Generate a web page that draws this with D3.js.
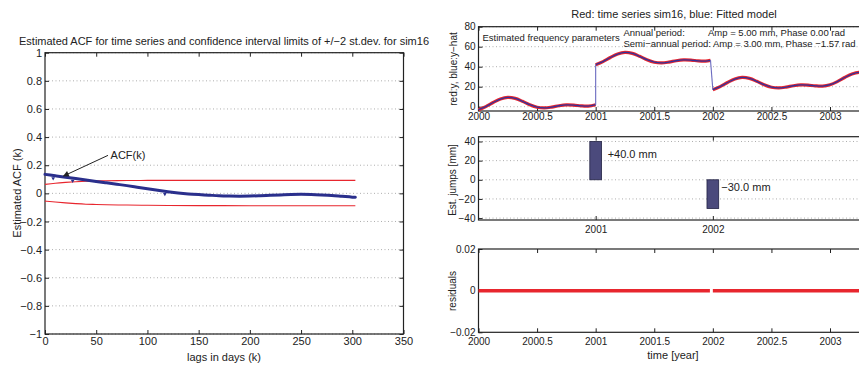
<!DOCTYPE html>
<html>
<head>
<meta charset="utf-8">
<script src="https://cdn.jsdelivr.net/npm/d3@7"></script>
<style>
  body { margin: 0; background: #fff; }
  svg { display: block; font-family: "Liberation Sans", Arial, sans-serif; }
</style>
</head>
<body>
<script>
// Width og height
const w = 859;
const h = 365;

// ---- venstre plot: ACF ----
const acfLags = [0, 10, 20, 30, 40, 50, 60, 70, 80, 90, 100, 110, 120, 130, 140, 150,
  160, 170, 180, 190, 200, 210, 220, 230, 240, 250, 260, 270, 280, 290, 300, 303];
const acfValues = [0.135, 0.125, 0.115, 0.105, 0.095, 0.085, 0.075, 0.065, 0.055, 0.044,
  0.033, 0.022, 0.012, 0.003, -0.004, -0.009, -0.013, -0.017, -0.019, -0.02, -0.019,
  -0.017, -0.014, -0.011, -0.008, -0.007, -0.008, -0.011, -0.015, -0.021, -0.027, -0.028];
const acfMarkLags = [8, 27, 117];
const acfMarkValues = [0.125, 0.107, 0.013];

const ciLags = [0, 10, 20, 30, 40, 50, 60, 80, 100, 150, 200, 250, 303];
const ciUpper = [0.064, 0.072, 0.078, 0.083, 0.087, 0.089, 0.09, 0.091, 0.092, 0.092, 0.092, 0.092, 0.092];
const ciLower = [-0.055, -0.062, -0.068, -0.073, -0.077, -0.079, -0.081, -0.083, -0.085, -0.087, -0.088, -0.088, -0.088];

const lagTicks = [0, 50, 100, 150, 200, 250, 300, 350];
const acfTicks = [-1, -0.8, -0.6, -0.4, -0.2, 0, 0.2, 0.4, 0.6, 0.8, 1];

// ---- højre plot: tidsserie sim16 (rød) og fittet model (blå) ----
const yearsA = [2000, 2000.0625, 2000.125, 2000.1875, 2000.25, 2000.3125, 2000.375, 2000.4375,
  2000.5, 2000.5625, 2000.625, 2000.6875, 2000.75, 2000.8125, 2000.875, 2000.9375, 2001];
const sim16A = [-3.0, 0.1, 4.16, 7.68, 9.25, 8.3, 5.41, 1.98, -0.5, -1.22, -0.41, 0.94,
  1.75, 1.56, 0.84, 0.65, 2.0];
const yearsB = [2001, 2001.0625, 2001.125, 2001.1875, 2001.25, 2001.3125, 2001.375, 2001.4375,
  2001.5, 2001.5625, 2001.625, 2001.6875, 2001.75, 2001.8125, 2001.875, 2001.9375, 2001.98];
const sim16B = [42.0, 45.1, 49.16, 52.68, 54.25, 53.3, 50.41, 46.98, 44.5, 43.78, 44.59,
  45.94, 46.75, 46.56, 45.84, 45.65, 46.37];
const yearsC = [2002, 2002.0625, 2002.125, 2002.1875, 2002.25, 2002.3125, 2002.375, 2002.4375,
  2002.5, 2002.5625, 2002.625, 2002.6875, 2002.75, 2002.8125, 2002.875, 2002.9375, 2003,
  2003.0625, 2003.125, 2003.1875, 2003.25, 2003.3125, 2003.375];
const sim16C = [17.0, 20.1, 24.16, 27.68, 29.25, 28.3, 25.41, 21.98, 19.5, 18.78, 19.59,
  20.94, 21.75, 21.56, 20.84, 20.65, 22.0, 25.1, 29.16, 32.68, 34.25, 33.3, 30.41];

const yearTicks = [2000, 2000.5, 2001, 2001.5, 2002, 2002.5, 2003];
const seriesTicks = [0, 20, 40, 60, 80];

// spring (jumps)
const jumpYears = [2001, 2002];
const jumpSizes = [40, -30];
const jumpLabelY = [27, -8];
const jumpTicks = [-40, -20, 0, 20, 40];

// residualer
const resYears1 = [2000, 2001.975];
const resValues1 = [0, 0];
const resYears2 = [2002, 2003.4];
const resValues2 = [0, 0];
const resTicks = [-0.02, 0, 0.02];

const red = "#e8262e";
const blue = "#33339a";
const ink = "#222";

const svg = d3.select("body").append("svg").attr("width", w).attr("height", h);
svg.append("rect").attr("width", w).attr("height", h).attr("fill", "#fff");

svg.append("defs").append("marker")
  .attr("id", "arrow")
  .attr("viewBox", "0 0 10 10")
  .attr("refX", 9).attr("refY", 5)
  .attr("markerWidth", 7).attr("markerHeight", 6)
  .attr("markerUnits", "userSpaceOnUse")
  .attr("orient", "auto")
  .append("path").attr("d", "M0,0L10,5L0,10z").attr("fill", ink);

const fmt = (d) => String(Math.round(d * 100) / 100).replace("-", "\u2212");

// Tegner en MATLAB-agtig akse-boks med ticks indad
function frame(x, y, o) {
  const g = svg.append("g");
  const [x0, x1] = x.range();
  const [y1, y0] = y.range();
  const fs = o.fontSize;

  if (o.grid) {
    g.selectAll("line.grid")
      .data(o.yTicks)
      .join("line")
      .attr("class", "grid")
      .attr("x1", x0).attr("x2", x1)
      .attr("y1", (d) => y(d)).attr("y2", (d) => y(d))
      .attr("stroke", "#999")
      .attr("stroke-width", 0.8)
      .attr("stroke-dasharray", "1,2.5");
  }

  const style = (sel) => {
    sel.select(".domain").remove();
    sel.attr("font-family", null).attr("font-size", fs).attr("color", ink);
    sel.selectAll("text").attr("fill", ink);
  };

  g.append("g").attr("transform", "translate(0," + y1 + ")")
    .call(d3.axisBottom(x).tickValues(o.xTicks).tickSize(-4).tickPadding(o.xPad)
      .tickFormat(o.xLabels ? fmt : ""))
    .call(style);
  g.append("g").attr("transform", "translate(0," + y0 + ")")
    .call(d3.axisTop(x).tickValues(o.xTicks).tickSize(-4).tickFormat(""))
    .call(style);
  g.append("g").attr("transform", "translate(" + x0 + ",0)")
    .call(d3.axisLeft(y).tickValues(o.yTicks).tickSize(-4).tickPadding(3).tickFormat(fmt))
    .call(style);
  g.append("g").attr("transform", "translate(" + x1 + ",0)")
    .call(d3.axisRight(y).tickValues(o.yTicks).tickSize(-4).tickFormat(""))
    .call(style);

  g.append("rect")
    .attr("x", x0).attr("y", y0)
    .attr("width", x1 - x0).attr("height", y1 - y0)
    .attr("fill", "none").attr("stroke", ink).attr("stroke-width", 1.2);
  return g;
}

function label(text, x, y, size, rotate, anchor) {
  const t = svg.append("text")
    .attr("x", x).attr("y", y)
    .attr("font-size", size)
    .attr("fill", ink)
    .attr("text-anchor", anchor || "middle")
    .attr("dominant-baseline", "central")
    .text(text);
  if (rotate) t.attr("transform", "rotate(-90," + x + "," + y + ")");
  return t;
}

/* ================= venstre: ACF ================= */
const xL = d3.scaleLinear().domain([0, 350]).range([45, 403.5]);
const yL = d3.scaleLinear().domain([-1, 1]).range([334, 52.7]);

frame(xL, yL, { xTicks: lagTicks, yTicks: acfTicks, grid: true, xLabels: true, xPad: 3, fontSize: 11 });

const ciLine = (vals) => d3.line()
  .x((d, i) => xL(ciLags[i]))
  .y((d, i) => yL(vals[i]))
  .curve(d3.curveMonotoneX)(vals);

svg.append("path").attr("d", ciLine(ciUpper)).attr("fill", "none").attr("stroke", red).attr("stroke-width", 1.1);
svg.append("path").attr("d", ciLine(ciLower)).attr("fill", "none").attr("stroke", red).attr("stroke-width", 1.1);

const acfLine = d3.line()
  .x((d, i) => xL(acfLags[i]))
  .y((d) => yL(d))
  .curve(d3.curveMonotoneX);

svg.append("path")
  .attr("d", acfLine(acfValues))
  .attr("fill", "none")
  .attr("stroke", "#2a2f8c")
  .attr("stroke-width", 3)
  .attr("stroke-linecap", "round");

svg.selectAll("path.mark")
  .data(acfMarkLags)
  .join("path")
  .attr("class", "mark")
  .attr("d", d3.symbol(d3.symbolTriangle, 6))
  .attr("transform", (d, i) => "translate(" + xL(d) + "," + (yL(acfMarkValues[i]) + 2.5) + ") rotate(180)")
  .attr("fill", "#2a2f8c");

// annotation ACF(k)
svg.append("line")
  .attr("x1", xL(61.5)).attr("y1", yL(0.27))
  .attr("x2", xL(18)).attr("y2", yL(0.123))
  .attr("stroke", ink).attr("stroke-width", 1)
  .attr("marker-end", "url(#arrow)");
label("ACF(k)", xL(64), yL(0.27), 11, false, "start");

label("Estimated ACF for time series and confidence interval limits of +/\u22122 st.dev. for sim16", 224, 41, 11);
label("lags in days (k)", 224, 357, 11);
label("Estimated ACF (k)", 17, 193, 11, true);

/* ================= højre øverst: tidsserie ================= */
const xR = d3.scaleLinear().domain([2000, 2003.4]).range([478.5, 478.5 + 3.4 * 117.17]);
const yS = d3.scaleLinear().domain([-4.3, 80]).range([111, 26.7]);

frame(xR, yS, { xTicks: yearTicks, yTicks: seriesTicks, grid: true, xLabels: true, xPad: 2, fontSize: 10 });

const segments = [[yearsA, sim16A], [yearsB, sim16B], [yearsC, sim16C]];
const segLine = (yrs) => d3.line()
  .x((d, i) => xR(yrs[i]))
  .y((d) => yS(d))
  .curve(d3.curveCatmullRom);

const plotS = svg.append("g");
segments.forEach(([yrs, vals]) => {
  plotS.append("path").attr("d", segLine(yrs)(vals))
    .attr("fill", "none").attr("stroke", red).attr("stroke-width", 3.2);
});
segments.forEach(([yrs, vals], k) => {
  plotS.append("path").attr("d", segLine(yrs)(vals))
    .attr("fill", "none").attr("stroke", blue).attr("stroke-width", 1.3);
  // model forbinder springene
  if (k < segments.length - 1) {
    const [ny, nv] = segments[k + 1];
    plotS.append("line")
      .attr("x1", xR(yrs[yrs.length - 1])).attr("y1", yS(vals[vals.length - 1]))
      .attr("x2", xR(ny[0])).attr("y2", yS(nv[0]))
      .attr("stroke", "#6a6ac0").attr("stroke-width", 1.1);
  }
});

label("Red: time series sim16, blue: Fitted model", 674, 14, 11);
label("red:y, blue:y\u2212hat", 453, 69, 10, true);
label("Estimated frequency parameters", 482.5, 37.5, 9.5, false, "start");
label("Annual period:", 623.5, 32, 9.5, false, "start");
label("Amp = 5.00 mm, Phase 0.00 rad", 708, 32, 9.5, false, "start");
label("Semi\u2212annual period: Amp = 3.00 mm, Phase \u22121.57 rad", 623.5, 43.5, 9.5, false, "start");

/* ================= højre midt: spring ================= */
const yJ = d3.scaleLinear().domain([-42, 45]).range([220, 136.7]);

frame(xR, yJ, { xTicks: jumpYears, yTicks: jumpTicks, grid: true, xLabels: true, xPad: 6, fontSize: 10 });

svg.selectAll("rect.jump")
  .data(jumpSizes)
  .join("rect")
  .attr("class", "jump")
  .attr("x", (d, i) => xR(jumpYears[i] - 0.05))
  .attr("width", xR(2000.1) - xR(2000))
  .attr("y", (d) => yJ(Math.max(d, 0)))
  .attr("height", (d) => Math.abs(yJ(d) - yJ(0)))
  .attr("fill", "#4b4a7c")
  .attr("stroke", "#222244")
  .attr("stroke-width", 0.8);

svg.selectAll("text.jump")
  .data(jumpSizes)
  .join("text")
  .attr("class", "jump")
  .attr("x", (d, i) => xR(jumpYears[i]) + (d > 0 ? 12 : 8.5))
  .attr("y", (d, i) => yJ(jumpLabelY[i]))
  .attr("dominant-baseline", "central")
  .attr("font-size", 11)
  .attr("fill", ink)
  .text((d) => (d > 0 ? "+" : "\u2212") + Math.abs(d).toFixed(1) + " mm");

label("Est. jumps [mm]", 452, 180, 10, true);

/* ================= højre nederst: residualer ================= */
const yRes = d3.scaleLinear().domain([-0.02, 0.02]).range([332.3, 249]);

frame(xR, yRes, { xTicks: yearTicks, yTicks: resTicks, grid: false, xLabels: true, xPad: 6, fontSize: 10 });

const resLine = (yrs) => d3.line().x((d, i) => xR(yrs[i])).y((d) => yRes(d));
[[resYears1, resValues1], [resYears2, resValues2]].forEach(([yrs, vals]) => {
  svg.append("path").attr("d", resLine(yrs)(vals))
    .attr("fill", "none").attr("stroke", red).attr("stroke-width", 3.5);
});

label("residuals", 452, 291, 10, true);
label("time [year]", 673, 355, 11);
</script>
</body>
</html>
